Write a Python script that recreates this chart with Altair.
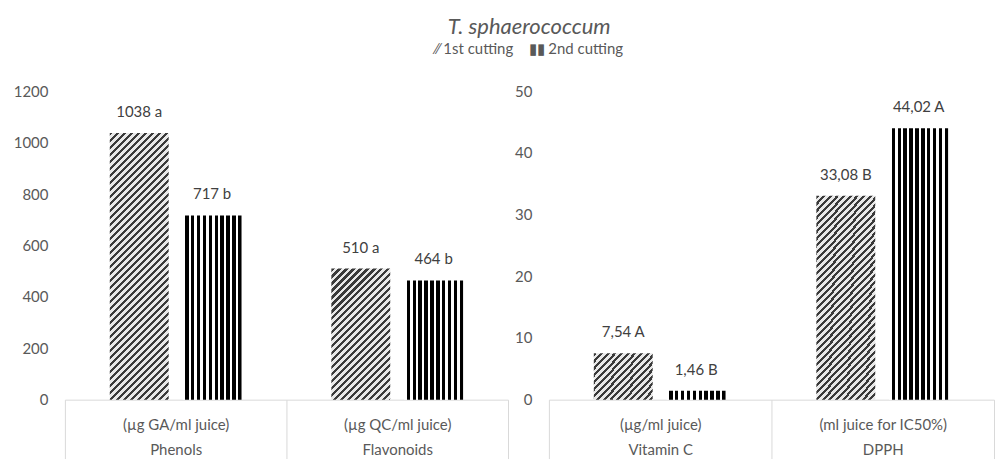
import json
import math
import altair as alt
import pandas as pd

# ---------------- data ----------------
series = ["1st cutting", "2nd cutting"]
title_text = "T. sphaerococcum"

left_cats = ["Phenols", "Flavonoids"]
left_units = ["(µg GA/ml juice)", "(µg QC/ml juice)"]
left_cut1 = [1038, 510]
left_cut2 = [717, 464]
left_let1 = ["a", "a"]
left_let2 = ["b", "b"]
left_ticks = [0, 200, 400, 600, 800, 1000, 1200]

right_cats = ["Vitamin C", "DPPH"]
right_units = ["(µg/ml juice)", "(ml juice for IC50%)"]
right_cut1 = [7.54, 33.08]
right_cut2 = [1.46, 44.02]
right_let1 = ["A", "B"]
right_let2 = ["B", "A"]
right_ticks = [0, 10, 20, 30, 40, 50]

# ---------------- style ----------------
FONT = "Lato"
TXT = "#595959"
LINE = "#d9d9d9"
PLOT_H = 309
NB = "\u00a0"


def vstripes(n=10, frac=0.42):
    stops = []
    for k in range(n):
        a = round(k / n, 5)
        b = round((k + frac) / n, 5)
        e = round(min(1.0, (k + 1) / n), 5)
        stops += [
            {"offset": a, "color": "#ffffff"},
            {"offset": b, "color": "#ffffff"},
            {"offset": b, "color": "#000000"},
            {"offset": e, "color": "#000000"},
        ]
    return {"gradient": "linear", "x1": 0, "y1": 0, "x2": 1, "y2": 0, "stops": stops}


def diag(w, h, period=7.0, frac=0.45, dark="#3a3a3a", light="#e8e8e8"):
    L = w + h
    c = L / (w * w + h * h)
    n = math.ceil(L / period)
    stops = []
    for k in range(n):
        a = round(min(1.0, k * period / L), 5)
        b = round(min(1.0, (k + frac) * period / L), 5)
        e = round(min(1.0, (k + 1) * period / L), 5)
        stops += [
            {"offset": a, "color": dark},
            {"offset": b, "color": dark},
            {"offset": b, "color": light},
            {"offset": e, "color": light},
        ]
    return {"gradient": "linear", "x1": 0, "y1": 0, "x2": round(c * w, 6),
            "y2": round(c * h, 6), "stops": stops}


def fmt_int(v):
    return str(int(v))


def fmt_dec(v):
    return f"{v:.2f}".replace(".", ",")


def panel(cats, units, c1, c2, l1, l2, ymax, ticks, width, pi, po, align, fmt, extent):
    rows = []
    for i, c in enumerate(cats):
        rows.append(dict(cat=c, series=series[0], value=c1[i], label=f"{fmt(c1[i])} {l1[i]}"))
        rows.append(dict(cat=c, series=series[1], value=c2[i], label=f"{fmt(c2[i])} {l2[i]}"))
    df = pd.DataFrame(rows)

    expr = "''"
    for i in range(len(cats) - 1, -1, -1):
        expr = (f"datum.label == {json.dumps(cats[i], ensure_ascii=False)} ? "
                f"{json.dumps([units[i], cats[i]], ensure_ascii=False)} : ({expr})")

    band = width / len(cats)
    step = band / (2 - pi + 2 * po)
    bw = step * (1 - pi)

    base = alt.Chart(df).encode(
        x=alt.X("cat:N", sort=cats, title=None,
                scale=alt.Scale(domain=cats, paddingInner=0, paddingOuter=0),
                axis=alt.Axis(labelExpr=expr, labelColor=TXT, labelFont=FONT,
                              labelFontSize=15, labelLineHeight=25, labelAngle=0,
                              labelOverlap=False, domainColor=LINE, tickColor=LINE,
                              tickSize=59, tickBand="extent", labelPadding=18 - 59)),
        xOffset=alt.XOffset("series:N", sort=series,
                            scale=alt.Scale(domain=series, paddingInner=pi,
                                            paddingOuter=po, align=align)),
        y=alt.Y("value:Q", title=None, scale=alt.Scale(domain=[0, ymax], nice=False),
                axis=alt.Axis(values=ticks, format="d", grid=False, domain=False,
                              ticks=False, labelColor=TXT, labelFont=FONT,
                              labelFontSize=15, labelPadding=17,
                              minExtent=extent, maxExtent=extent)),
    )

    layers = []
    for i, c in enumerate(cats):
        h = c1[i] / ymax * PLOT_H
        layers.append(
            base.mark_bar(fill=diag(bw, h)).transform_filter(
                (alt.datum.cat == c) & (alt.datum.series == series[0]))
        )
    layers.append(
        base.mark_bar(fill=vstripes()).transform_filter(alt.datum.series == series[1])
    )
    layers.append(
        base.mark_text(baseline="middle", dy=-21, font=FONT, fontSize=15,
                       color="#404040").encode(text="label:N")
    )
    return alt.layer(*layers).properties(width=width, height=PLOT_H)


left = panel(left_cats, left_units, left_cut1, left_cut2, left_let1, left_let2,
             1200, left_ticks, 444, 0.1918, 0.6164, 0.5, fmt_int, 57)
right = panel(right_cats, right_units, right_cut1, right_cut2, right_let1, right_let2,
              50, right_ticks, 446, 0.2051, 0.532, 0.61, fmt_dec, 40)

legend_text = f"⁄⁄{NB}{series[0]}{NB * 4}▮▮{NB}{series[1]}"

chart = alt.hconcat(left, right, spacing=0).properties(
    title=alt.TitleParams(text=title_text, subtitle=legend_text, font=FONT,
                          fontSize=22, fontStyle="italic", fontWeight="normal",
                          color=TXT, subtitleFont=FONT, subtitleFontSize=15,
                          subtitleColor=TXT, subtitlePadding=3, anchor="middle",
                          dx=28, offset=26),
    padding={"left": 0, "top": 8, "right": 0, "bottom": 0},
).configure_view(strokeWidth=0)

chart.save("out.html", embed_options={"renderer": "svg", "actions": False})
